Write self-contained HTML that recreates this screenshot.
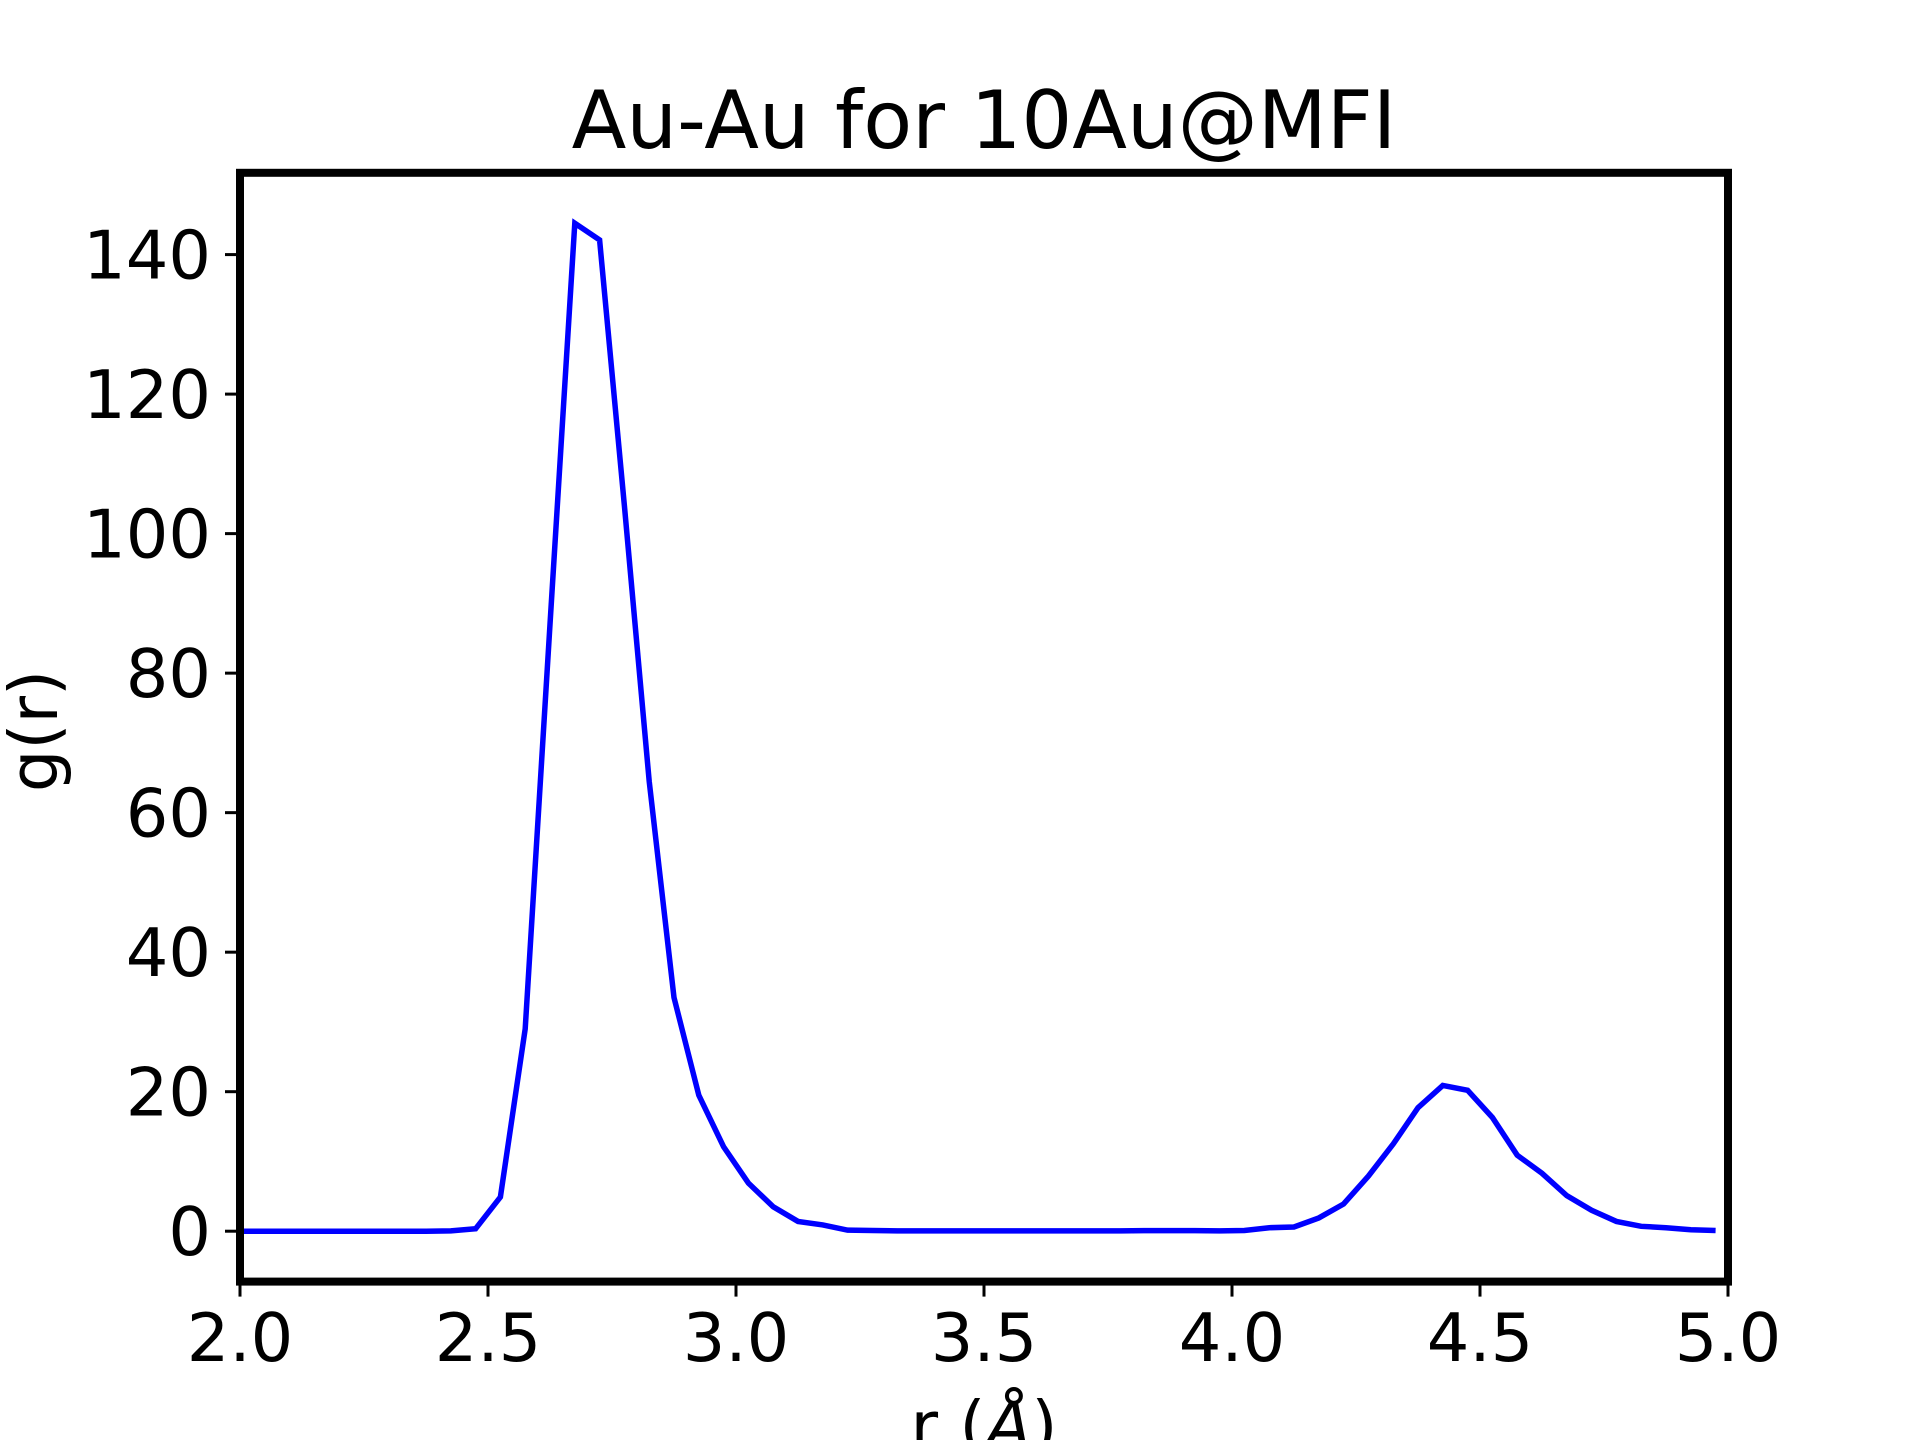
<!DOCTYPE html>
<html><head><meta charset="utf-8"><style>
html,body{margin:0;padding:0;background:#fff;}
svg{display:block;font-family:"DejaVu Sans","Liberation Sans",sans-serif;}
</style></head><body>
<svg id="chart" width="1920" height="1440" viewBox="0 0 1920 1440" xmlns="http://www.w3.org/2000/svg">
<rect width="1920" height="1440" fill="#fff"/>
<text x="984" y="148" font-size="80" text-anchor="middle">Au-Au for 10Au@MFI</text>
<g id="xticks"></g>
<g id="yticks"></g>
<path id="series" fill="none" stroke="#0000ff" stroke-width="5.5" stroke-linejoin="miter"/>
<rect x="240" y="172.8" width="1488" height="1108.8" fill="none" stroke="#000" stroke-width="8"/>
<text x="984" y="1449" font-size="67" text-anchor="middle">r (<tspan font-style="italic">Å</tspan>)</text>
<text transform="translate(57,731) rotate(-90)" font-size="67" text-anchor="middle">g(r)</text>
</svg>
<script>
const rValues = [2.0,2.025,2.075,2.125,2.175,2.225,2.275,2.325,2.375,2.425,2.475,2.525,2.575,2.625,2.675,2.725,2.775,2.825,2.875,2.925,2.975,3.025,3.075,3.125,3.175,3.225,3.275,3.325,3.375,3.425,3.475,3.525,3.575,3.625,3.675,3.725,3.775,3.825,3.875,3.925,3.975,4.025,4.075,4.125,4.175,4.225,4.275,4.325,4.375,4.425,4.475,4.525,4.575,4.625,4.675,4.725,4.775,4.825,4.875,4.925,4.975];
const gValues = [0,0,0,0,0,0,0,0,0,0.05,0.35,4.9,29,87,144.5,142.1,104,64.5,33.5,19.5,12.1,6.9,3.5,1.4,0.9,0.15,0.1,0.05,0.05,0.05,0.05,0.05,0.05,0.05,0.05,0.05,0.05,0.08,0.08,0.08,0.05,0.1,0.5,0.6,1.9,3.9,7.9,12.5,17.7,20.9,20.2,16.3,10.9,8.3,5.1,3.0,1.4,0.7,0.5,0.2,0.1];
const xTicks = [2.0,2.5,3.0,3.5,4.0,4.5,5.0];
const xTickLabels = ["2.0","2.5","3.0","3.5","4.0","4.5","5.0"];
const yTicks = [0,20,40,60,80,100,120,140];
const yTickLabels = ["0","20","40","60","80","100","120","140"];
const X0=240,X1=1728,Y0=1281.6,Y1=172.8;
const xMin=2,xMax=5,yMin=-7.225,yMax=151.725;
function xs(v){return X0+(v-xMin)/(xMax-xMin)*(X1-X0);}
function ys(v){return Y0-(v-yMin)/(yMax-yMin)*(Y0-Y1);}
const NS="http://www.w3.org/2000/svg";
const xg=document.getElementById('xticks'), yg=document.getElementById('yticks');
xTicks.forEach((t,i)=>{
  const l=document.createElementNS(NS,'line');
  l.setAttribute('x1',xs(t));l.setAttribute('x2',xs(t));l.setAttribute('y1',Y0);l.setAttribute('y2',Y0+15);
  l.setAttribute('stroke','#000');l.setAttribute('stroke-width','3');
  
  
  xg.appendChild(l);
  const tx=document.createElementNS(NS,'text');
  tx.setAttribute('x',xs(t));tx.setAttribute('y',1361);tx.setAttribute('font-size','67');tx.setAttribute('text-anchor','middle');
  tx.textContent=xTickLabels[i];
  
  
  xg.appendChild(tx);
});
yTicks.forEach((t,i)=>{
  const l=document.createElementNS(NS,'line');
  l.setAttribute('x1',X0-15);l.setAttribute('x2',X0);l.setAttribute('y1',ys(t));l.setAttribute('y2',ys(t));
  l.setAttribute('stroke','#000');l.setAttribute('stroke-width','3');
  
  
  yg.appendChild(l);
  const tx=document.createElementNS(NS,'text');
  tx.setAttribute('x',211);tx.setAttribute('y',ys(t)+24);tx.setAttribute('font-size','67');tx.setAttribute('text-anchor','end');
  tx.textContent=yTickLabels[i];
  
  
  yg.appendChild(tx);
});
let d='';
rValues.forEach((r,i)=>{d+=(i?'L':'M')+xs(r).toFixed(2)+','+ys(gValues[i]).toFixed(2);});
document.getElementById('series').setAttribute('d',d);
</script>
</body></html>
